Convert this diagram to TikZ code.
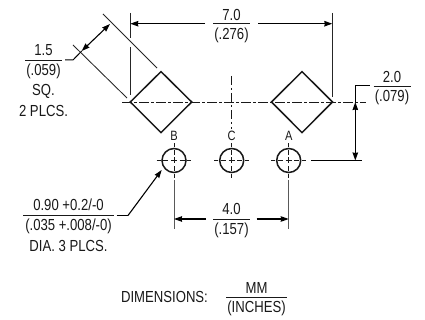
\documentclass[tikz,border=0pt]{standalone}
\usepackage{fontspec}
\setmainfont[FakeStretch=0.82]{Liberation Sans}
\usetikzlibrary{arrows.meta,calc}
\tikzset{
 x=1pt,y=-1pt,
 thinln/.style={line width=0.85pt,color=black!85},
 thick ln/.style={line width=1.5pt,color=black!90},
 ext/.style={line width=0.9pt,color=black!85},
 center ln/.style={line width=0.85pt,color=black!90,dash pattern=on 9.5pt off 2.5pt on 2.5pt off 2.5pt},
 cross ln/.style={line width=0.9pt,color=black!90,dash pattern=on 4pt off 2.6pt on 5pt off 2.7pt on 6pt off 2.7pt on 5pt off 2.6pt on 4pt},
 arr/.style={line width=1.1pt,color=black,-{Stealth[length=8pt,width=5.5pt,inset=0.5pt]}},
 arrs/.style={line width=1.1pt,color=black,{Stealth[length=8pt,width=5.5pt,inset=0.5pt]}-{Stealth[length=8pt,width=5.5pt,inset=0.5pt]}},
 lead/.style={line width=1pt,color=black},
 rule ln/.style={line width=0.9pt,color=black!90},
 txt/.style={inner sep=0pt,font=\fontsize{16}{16}\selectfont,text=black!90,anchor=center},
 small txt/.style={inner sep=0pt,font=\fontsize{13.5}{13.5}\selectfont,text=black!90,anchor=center},
 pad/.style={thick ln,fill=none,line join=miter},
 hole/.style={circle,draw,line width=1.5pt,color=black!90,minimum size=24pt,inner sep=0pt},
}
\begin{document}
\begin{tikzpicture}
\useasboundingbox (0,0) rectangle (425,320);
\fill[white] (0,0) rectangle (425,320);
% named reference points
\coordinate (cl1) at (122,102); \coordinate (cl2) at (366,102);
\coordinate (e1t) at (130.3,13); \coordinate (e1a) at (130.3,38); \coordinate (e1b) at (130.3,47); \coordinate (e1c) at (130.3,95);
\coordinate (e2t) at (332.3,13); \coordinate (e2c) at (332.3,97);
\coordinate (d1a) at (103,14); \coordinate (d1b) at (157,68);
\coordinate (d2a) at (73,45); \coordinate (d2b) at (127,98);
\coordinate (a1) at (110,24); \coordinate (a2) at (81.7,51);
\coordinate (lb1) at (65,60); \coordinate (lb2) at (73,60);
% centre lines
\draw[center ln] (cl1) -- (cl2);
\coordinate (cv1) at (231.7,76); \coordinate (cv2) at (231.7,129);
\draw[center ln] (cv1) -- (cv2);
% pads
\draw[pad] (130.3,102) -- (161,71.6) -- (191.7,102) -- (161,132.6) -- cycle;
\draw[pad] (271.5,102) -- (302,71.6) -- (332.5,102) -- (302,132.6) -- cycle;
% holes
\node[hole] (hB) at (174,160.5) {};
\node[hole] (hC) at (231.7,160.5) {};
\node[hole] (hA) at (288.7,160.5) {};
\foreach \h in {hB,hC,hA}{
  \draw[cross ln] ($(\h.center)+(-17.3,0)$) -- ($(\h.center)+(17.3,0)$);
  \draw[cross ln] ($(\h.center)+(0,-17.3)$) -- ($(\h.center)+(0,17.3)$);
}
% labels
\node[small txt] (lB) at (174,135.5) {B};
\node[small txt] (lC) at (231.7,135.5) {C};
\node[small txt] (lA) at (288.7,135.5) {A};
% extension lines
\draw[ext] (e1t) -- (e1a); \draw[ext] (e1b) -- (e1c);
\draw[ext] (e2t) -- (e2c);
\draw[thinln] (d1a) -- (d1b);
\draw[thinln] (d2a) -- (d2b);
\coordinate (b1) at (174,180); \coordinate (b2) at (174,229);
\coordinate (c1) at (288.7,180); \coordinate (c2) at (288.7,229);
\draw[ext,black!65] (b1) -- (b2);
\draw[ext,black!65] (c1) -- (c2);
\coordinate (ah) at (311,160.5); \coordinate (ah2) at (362,160.5);
\draw[lead] (ah) -- (ah2);
% 7.0 dimension
\coordinate (t1) at (205,23.7); \coordinate (t2) at (258,23.7);
\draw[arr] (t1) -- (e1t |- t1);
\draw[arr] (t2) -- (e2t |- t2);
\node[txt] (n70) at (231.5,14.5) {7.0};
\node[txt] (n276) at (231.5,35) {(.276)};
\draw[rule ln] (213,23.7) -- (250,23.7);
% 1.5
\draw[arrs] (a1) -- (a2);
\draw[lead] (lb1) -- (lb2) -- (a2);
\node[txt] (n15) at (43.5,50.5) {1.5};
\node[txt] (n059) at (43.5,71) {(.059)};
\node[txt] (nsq) at (43.5,91) {SQ.};
\node[txt] (nplc) at (43.5,111) {2 PLCS.};
\draw[rule ln] (25,60) -- (62,60);
% 2.0
\coordinate (v0) at (355.3,86); \coordinate (v1) at (355.3,102); \coordinate (v2) at (355.3,160.5);
\draw[arrs] (v1) -- (v2);
\coordinate (v3) at (370,86);
\draw[lead] (v1) -- (v0) -- (v3);
\node[txt] (n20) at (392,77) {2.0};
\node[txt] (n079) at (392,97) {(.079)};
\draw[rule ln] (373.7,86) -- (410.7,86);
% 4.0
\coordinate (h1) at (206,219); \coordinate (h2) at (256.7,219);
\draw[arr] (h1) -- (b1 |- h1);
\draw[arr] (h2) -- (c1 |- h2);
\node[txt] (n40) at (231.5,209) {4.0};
\node[txt] (n157) at (231.5,230) {(.157)};
\draw[rule ln] (213,219) -- (250,219);
% 0.90
\coordinate (q1) at (116.7,215.5); \coordinate (q2) at (128,215.5); \coordinate (q3) at (161.7,170);
\draw[lead] (q1) -- (q2);
\draw[arr] (q2) -- (q3);
\node[txt] (n090) at (68.5,205) {0.90 +0.2/-0};
\node[txt] (n035) at (68.5,226) {(.035 +.008/-0)};
\node[txt] (ndia) at (68.5,246) {DIA. 3 PLCS.};
\draw[rule ln] (23,215.5) -- (114,215.5);
% legend
\node[txt] (ndim) at (164.5,297) {DIMENSIONS:};
\node[txt] (nmm) at (256.5,287.5) {MM};
\node[txt] (nin) at (256.5,308) {(INCHES)};
\draw[rule ln] (226,297) -- (287,297);
\end{tikzpicture}
\end{document}
